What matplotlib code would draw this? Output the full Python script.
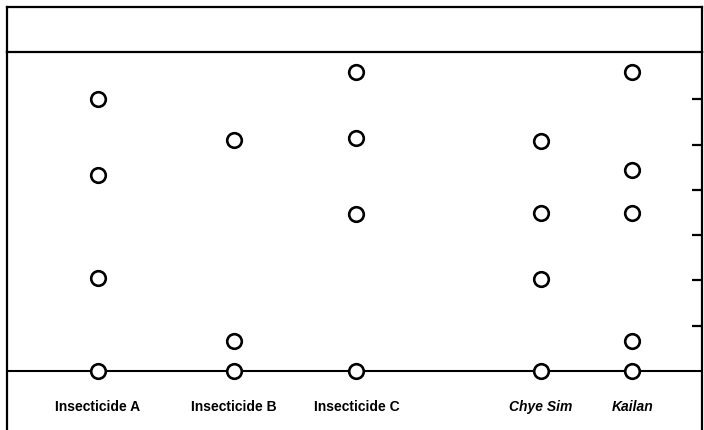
import numpy as np
import matplotlib
matplotlib.use("Agg")
import matplotlib.pyplot as plt

# categories and their positions along the axis
labels = ["Insecticide A", "Insecticide B", "Insecticide C", "Chye Sim", "Kailan"]
italic = [False, False, False, True, True]
xpos = [1.0, 2.0, 2.9, 4.255, 4.93]

# values (one list per category)
vals_a = [6.0, 4.33, 2.05, 0.0]
vals_b = [5.1, 0.66, 0.0]
vals_c = [6.6, 5.15, 3.47, 0.0]
vals_chye = [5.08, 3.48, 2.02, 0.0]
vals_kailan = [6.6, 4.44, 3.48, 0.67, 0.0]
all_vals = [vals_a, vals_b, vals_c, vals_chye, vals_kailan]

W, H = 704, 430
fig = plt.figure(figsize=(W/100, H/100), dpi=100)
plt.rcParams['font.family'] = ['Liberation Sans', 'DejaVu Sans']

left = 7/W
width = 695/W
top_main = 1 - 52/H
ax = fig.add_axes([left, 0, width, top_main])
hd = fig.add_axes([left, top_main, width, (52-7)/H])

# header band
hd.set_xticks([]); hd.set_yticks([])
hd.patch.set_alpha(0)
hd.spines['bottom'].set_visible(False)
for s in ['left', 'top', 'right']:
    hd.spines[s].set_linewidth(1.6)

# main area
unit = 45.3
ax.set_xlim(1 - 91/136, 1 + 604/136)
ax.set_ylim(-(430-371)/unit, (371-52)/unit)
ax.spines['bottom'].set_visible(False)
for s in ['left', 'top', 'right']:
    ax.spines[s].set_linewidth(1.6)
ax.set_xticks([])
ax.yaxis.tick_right()
ax.set_yticks([1, 2, 3, 4, 5, 6])
ax.tick_params(axis='y', direction='in', length=7, width=1.6, labelright=False)

ax.axhline(0, color='black', lw=1.5, zorder=1)

for x, v in zip(xpos, all_vals):
    ax.plot([x]*len(v), v, 'o', ms=10.5, mfc='white', mec='black', mew=1.9,
            ls='none', zorder=3)

for x, lab, it in zip(xpos, labels, italic):
    ax.text(x, -0.8, lab, ha='center', va='center', fontsize=10,
            fontweight='bold', style='italic' if it else 'normal')

fig.savefig("out.png", dpi=100)
